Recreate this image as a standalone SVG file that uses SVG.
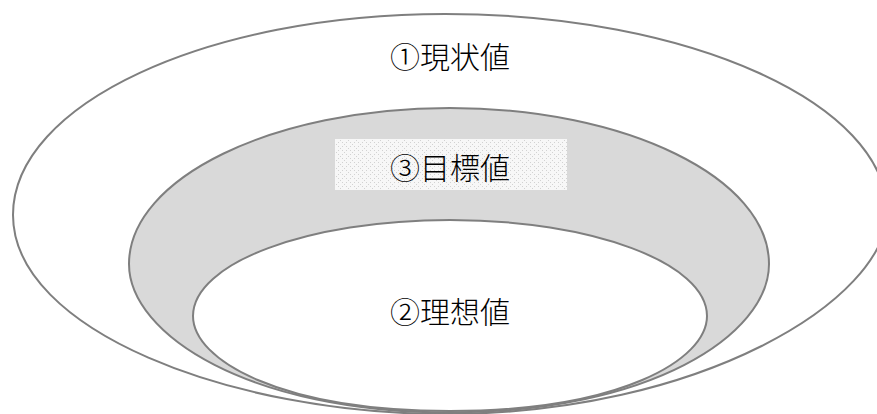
<svg xmlns="http://www.w3.org/2000/svg" width="877" height="414" viewBox="0 0 877 414">
<defs>
<style>
.shape{stroke:#7f7f7f;stroke-width:2;}
.lbl{font-family:"Noto Sans CJK JP","Noto Sans CJK SC",sans-serif;font-size:30px;font-weight:300;fill:#000;text-anchor:middle;dominant-baseline:central;}
</style>
<pattern id="dots" width="8" height="8" patternUnits="userSpaceOnUse">
<rect width="8" height="8" fill="#f7f7f7"/>
<rect x="0" y="0" width="1" height="1" fill="#d2d2d2"/>
<rect x="2" y="2" width="1" height="1" fill="#d2d2d2"/>
<rect x="4" y="4" width="1" height="1" fill="#d2d2d2"/>
<rect x="6" y="6" width="1" height="1" fill="#d2d2d2"/>
<rect x="6" y="2" width="1" height="1" fill="#d2d2d2"/>
<rect x="2" y="6" width="1" height="1" fill="#d2d2d2"/>
</pattern>
</defs>
<rect width="877" height="414" fill="#fff"/>
<g id="outer">
<path class="shape" fill="#fff" d="M445,14 C207,14 13,104 13,215 C13,330 230,414 445,414 C700,414 887,300 887,212 C887,104 690,14 445,14 Z"/>
<text class="lbl" x="450" y="55">①現状値</text>
</g>
<g id="middle">
<path class="shape" fill="#d9d9d9" d="M450,108 C273,108 129,178 129,264 C129,335 250,412.5 450,412.5 C650,412.5 769,335 769,264 C769,178 626,108 450,108 Z"/>
<rect x="335" y="139" width="232" height="51" fill="url(#dots)"/>
<text class="lbl" x="450" y="166">③目標値</text>
</g>
<g id="inner">
<path class="shape" fill="#fff" d="M450,220 C308,220 193,263 193,316 C193,360 280,411 450,411 C620,411 707,360 707,316 C707,263 592,220 450,220 Z"/>
<text class="lbl" x="450" y="310">②理想値</text>
</g>
<g id="connectors"/>
</svg>
